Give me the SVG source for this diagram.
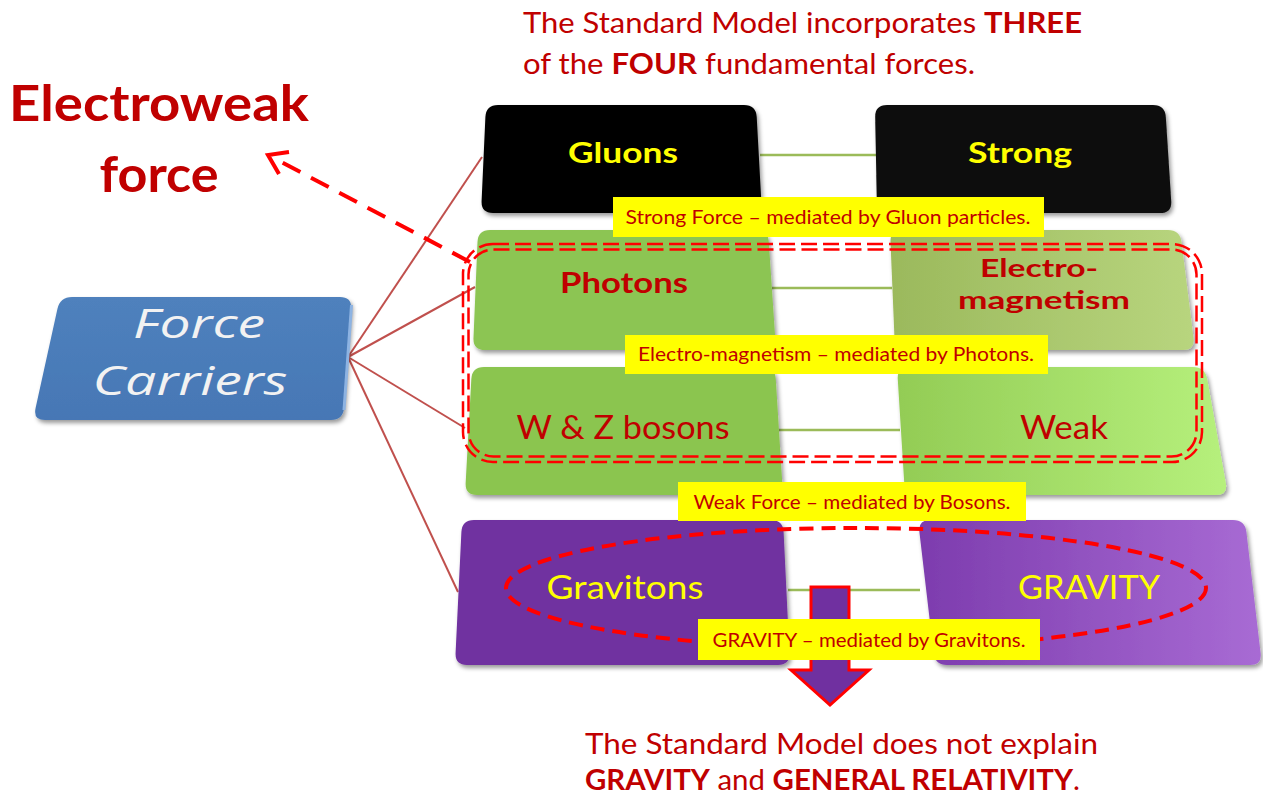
<svg xmlns="http://www.w3.org/2000/svg" width="1263" height="797" viewBox="0 0 1263 797">
<style>
.t{font-family:Lato,"Open Sans","Liberation Sans",sans-serif}
.red{fill:#c00000}
.yel{fill:#ffff00}
.lbl{font-size:19px;fill:#c00000}
.lblbox{fill:#ffff00}
.hub{stroke:#c0504d;stroke-width:2;fill:none}
.link{stroke:#9bbb59;stroke-width:2.5;fill:none}
.box{filter:url(#sh)}
</style>
<defs>
<filter id="sh" x="-10%" y="-10%" width="130%" height="130%">
<feDropShadow dx="2" dy="3" stdDeviation="2" flood-color="#000" flood-opacity="0.4"/>
</filter>
<linearGradient id="gEM" x1="0" y1="0" x2="1" y2="0"><stop offset="0" stop-color="#9bb95c"/><stop offset="1" stop-color="#b8d57e"/></linearGradient>
<linearGradient id="gWeak" x1="0" y1="0" x2="1" y2="0"><stop offset="0" stop-color="#93cc55"/><stop offset="1" stop-color="#b6f07c"/></linearGradient>
<linearGradient id="gGrav" x1="0" y1="0" x2="1" y2="0"><stop offset="0" stop-color="#7d3cae"/><stop offset="1" stop-color="#a86bd4"/></linearGradient>
<linearGradient id="gBlue" x1="0" y1="0" x2="0" y2="1"><stop offset="0" stop-color="#4f81bd"/><stop offset="1" stop-color="#4677b5"/></linearGradient>
</defs>
<rect width="1263" height="797" fill="#ffffff"/>

<g id="connectors">
<line class="hub" x1="348" y1="357" x2="482" y2="157"/>
<line class="hub" x1="348" y1="357" x2="475" y2="287"/>
<line class="hub" x1="348" y1="357" x2="465" y2="428"/>
<line class="hub" x1="348" y1="357" x2="458" y2="592"/>
<line class="link" x1="760" y1="155" x2="876" y2="155"/>
<line class="link" x1="772" y1="288" x2="892" y2="288"/>
<line class="link" x1="779" y1="430" x2="900" y2="430"/>
<line class="link" x1="788" y1="590" x2="920" y2="590"/>
</g>

<g id="force-carriers">
<path class="box" d="M72,297 L340,297 Q352,297 351.1,309 L344,408 Q343,420 331,420 L45,420 Q33,420 35.6,408 L57.4,309 Q60,297 72,297 Z" fill="url(#gBlue)"/>
<path d="M351.5,305 L344,410" stroke="#8db3e2" stroke-width="3" fill="none"/>
<text x="199" y="338" text-anchor="middle" font-family="'Open Sans',Lato,sans-serif" font-style="italic" font-size="40" fill="#f2f2f2" textLength="132" lengthAdjust="spacingAndGlyphs">Force</text>
<text x="190" y="395" text-anchor="middle" font-family="'Open Sans',Lato,sans-serif" font-style="italic" font-size="40" fill="#f2f2f2" textLength="195" lengthAdjust="spacingAndGlyphs">Carriers</text>
</g>

<g id="gluons">
<path class="box" d="M498,105 L744,105 Q756,105 756.7,117 L761.3,201 Q762,213 750,213 L493,213 Q481,213 481.6,201 L485.4,117 Q486,105 498,105Z" fill="#050505"/>
<text class="t yel" x="623" y="163" text-anchor="middle" font-size="28" font-weight="bold" textLength="110" lengthAdjust="spacingAndGlyphs">Gluons</text>
</g>
<g id="strong">
<path class="box" d="M887,105 L1153,105 Q1165,105 1165.8,117 L1171.2,201 Q1172,213 1160,213 L889,213 Q877,213 876.8,201 L875.2,117 Q875,105 887,105Z" fill="#0a0a0a"/>
<text class="t yel" x="1020" y="163" text-anchor="middle" font-size="28" font-weight="bold" textLength="104" lengthAdjust="spacingAndGlyphs">Strong</text>
</g>
<g id="photons">
<path class="box" d="M490,230 L756,230 Q768,230 768.8,242 L775.2,338 Q776,350 764,350 L485,350 Q473,350 473.5,338 L477.5,242 Q478,230 490,230Z" fill="#8cc553"/>
<text class="t red" x="624" y="293" text-anchor="middle" font-size="28" font-weight="bold" textLength="128" lengthAdjust="spacingAndGlyphs">Photons</text>
</g>
<g id="electromagnetism">
<path class="box" d="M902,230 L1168,230 Q1180,230 1181.5,242 L1193.5,338 Q1195,350 1183,350 L907,350 Q895,350 894.5,338 L890.5,242 Q890,230 902,230Z" fill="url(#gEM)"/>
<text class="t red" x="1039" y="277" text-anchor="middle" font-size="25" font-weight="bold" textLength="118" lengthAdjust="spacingAndGlyphs">Electro-</text>
<text class="t red" x="1044" y="309" text-anchor="middle" font-size="25" font-weight="bold" textLength="172" lengthAdjust="spacingAndGlyphs">magnetism</text>
</g>
<g id="wz-bosons">
<path class="box" d="M484,367 L763,367 Q775,367 775.75,379 L782.25,483 Q783,495 771,495 L477,495 Q465,495 465.66,483 L471.34,379 Q472,367 484,367Z" fill="#8bc54f"/>
<text class="t red" x="623" y="439" text-anchor="middle" font-size="32" textLength="213" lengthAdjust="spacingAndGlyphs">W &amp; Z bosons</text>
</g>
<g id="weak">
<path class="box" d="M909,367 L1193,367 Q1205,367 1207.2,379 L1225.8,483 Q1228,495 1216,495 L917,495 Q905,495 904.25,483 L897.75,379 Q897,367 909,367Z" fill="url(#gWeak)"/>
<text class="t red" x="1064" y="439" text-anchor="middle" font-size="32" textLength="88" lengthAdjust="spacingAndGlyphs">Weak</text>
</g>
<g id="gravitons">
<path class="box" d="M474,520 L771,520 Q783,520 783.6,532 L789.4,653 Q790,665 778,665 L467,665 Q455,665 455.6,653 L461.4,532 Q462,520 474,520Z" fill="#7030a0"/>
<text class="t yel" x="625" y="599" text-anchor="middle" font-size="32" textLength="157" lengthAdjust="spacingAndGlyphs">Gravitons</text>
</g>
<g id="gravity">
<path class="box" d="M930,520 L1233,520 Q1245,520 1246.4,532 L1260.6,653 Q1262,665 1250,665 L947,665 Q935,665 933.6,653 L919.4,532 Q918,520 930,520Z" fill="url(#gGrav)"/>
<text class="t yel" x="1089" y="599" text-anchor="middle" font-size="32" textLength="142" lengthAdjust="spacingAndGlyphs">GRAVITY</text>
</g>

<g id="electroweak-group" fill="none" stroke="#ff0000" stroke-width="2.5" stroke-dasharray="16 6">
<rect x="463" y="244" width="739" height="218" rx="30"/>
<rect x="468.5" y="249.5" width="728" height="207" rx="25"/>
</g>

<g id="gravity-ellipse">
<ellipse cx="856" cy="588" rx="350" ry="60" fill="none" stroke="#ff0000" stroke-width="4" stroke-dasharray="14 8"/>
</g>

<g id="down-arrow">
<path d="M811,587 L849,587 L849,670 L869,670 L830,705 L791,670 L811,670 Z" fill="#7030a0" stroke="#ff0000" stroke-width="3" stroke-linejoin="miter"/>
</g>

<g id="label-strong">
<rect class="lblbox" x="613" y="197" width="431" height="40"/>
<text class="t lbl" x="828" y="224" text-anchor="middle" textLength="405" lengthAdjust="spacingAndGlyphs">Strong Force – mediated by Gluon particles.</text>
</g>
<g id="label-em">
<rect class="lblbox" x="625" y="335" width="423" height="39"/>
<text class="t lbl" x="836" y="361" text-anchor="middle" textLength="396" lengthAdjust="spacingAndGlyphs">Electro-magnetism – mediated by Photons.</text>
</g>
<g id="label-weak">
<rect class="lblbox" x="678" y="482" width="348" height="39"/>
<text class="t lbl" x="852" y="509" text-anchor="middle" textLength="317" lengthAdjust="spacingAndGlyphs">Weak Force – mediated by Bosons.</text>
</g>
<g id="label-gravity">
<rect class="lblbox" x="698" y="619" width="342" height="41"/>
<text class="t lbl" x="869" y="647" text-anchor="middle" textLength="313" lengthAdjust="spacingAndGlyphs">GRAVITY – mediated by Gravitons.</text>
</g>

<g id="electroweak-arrow" fill="none" stroke="#ff0000" stroke-width="4">
<line x1="470" y1="262" x2="272" y2="157" stroke-dasharray="20 12"/>
<path d="M289,152 L268,155 L279,174"/>
</g>

<g id="electroweak-title">
<text class="t red" x="159" y="121" text-anchor="middle" font-size="50" font-weight="bold" textLength="300" lengthAdjust="spacingAndGlyphs">Electroweak</text>
<text class="t red" x="159" y="192" text-anchor="middle" font-size="50" font-weight="bold" textLength="119" lengthAdjust="spacingAndGlyphs">force</text>
</g>

<g id="top-note">
<text class="t red" x="523" y="33" font-size="28" textLength="559" lengthAdjust="spacingAndGlyphs">The Standard Model incorporates <tspan font-weight="bold">THREE</tspan></text>
<text class="t red" x="523" y="74" font-size="28" textLength="452" lengthAdjust="spacingAndGlyphs">of the <tspan font-weight="bold">FOUR</tspan> fundamental forces.</text>
</g>

<g id="bottom-note">
<text class="t red" x="585" y="754" font-size="28" textLength="513" lengthAdjust="spacingAndGlyphs">The Standard Model does not explain</text>
<text class="t red" x="585" y="790" font-size="28" textLength="495" lengthAdjust="spacingAndGlyphs"><tspan font-weight="bold">GRAVITY</tspan> and <tspan font-weight="bold">GENERAL RELATIVITY</tspan>.</text>
</g>
</svg>
